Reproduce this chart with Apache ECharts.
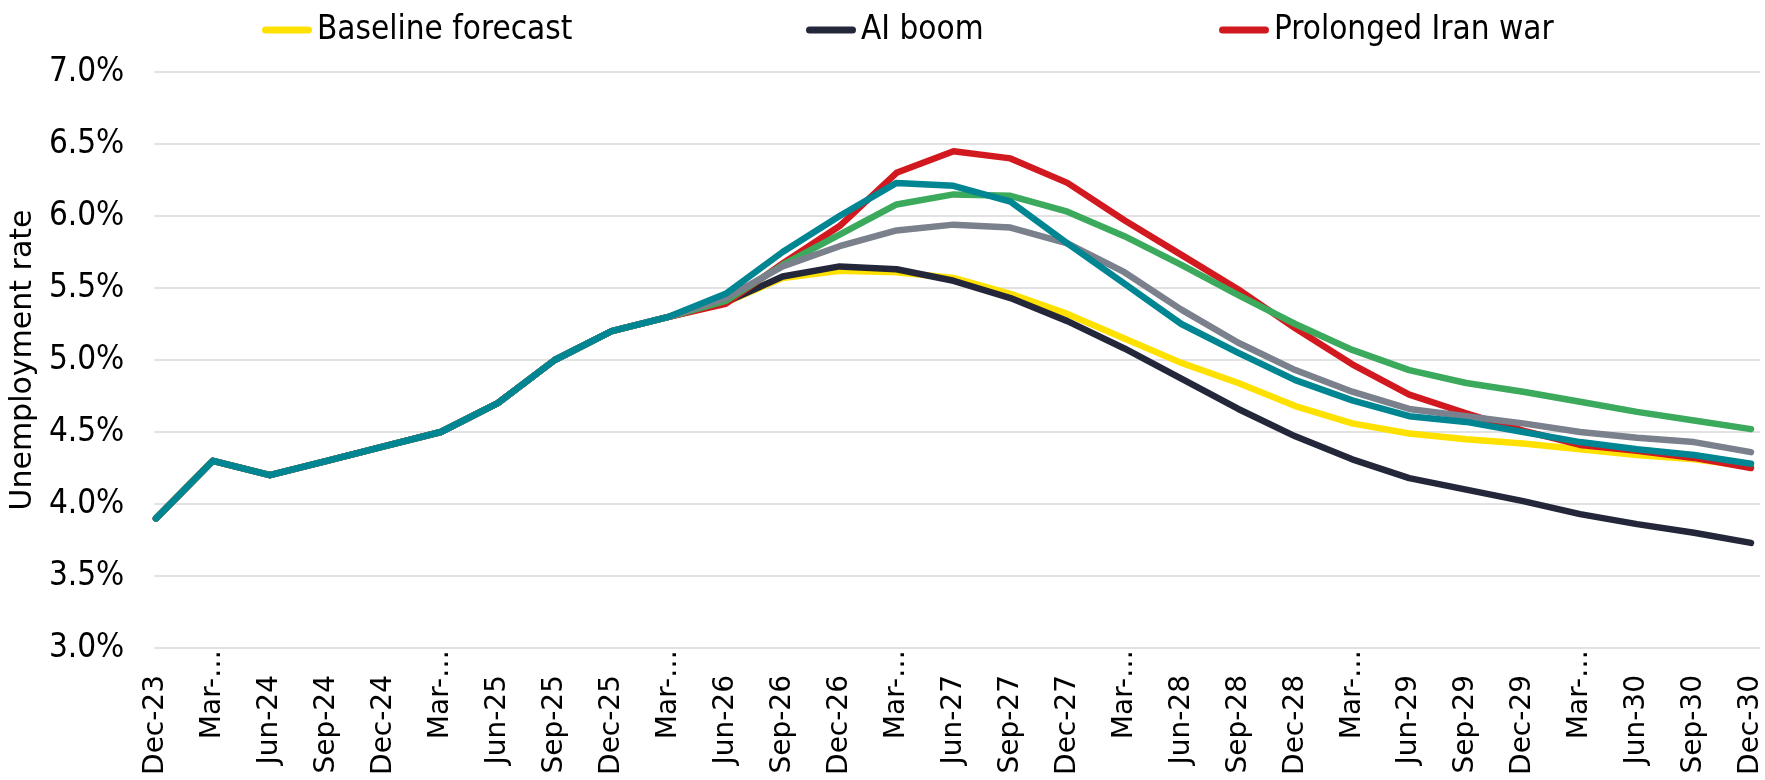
<!DOCTYPE html>
<html>
<head>
<meta charset="utf-8">
<script src="https://cdn.jsdelivr.net/npm/echarts@6/dist/echarts.min.js"></script>
<style>
  html, body { margin: 0; padding: 0; background: #ffffff; }
  #chart { width: 1765px; height: 780px; }
</style>
</head>
<body>
<div id="chart"></div>
<script>
// Quarter-end labels along the horizontal axis
const quarters = [
  'Dec-23', 'Mar-24', 'Jun-24', 'Sep-24', 'Dec-24', 'Mar-25', 'Jun-25', 'Sep-25',
  'Dec-25', 'Mar-26', 'Jun-26', 'Sep-26', 'Dec-26', 'Mar-27', 'Jun-27', 'Sep-27',
  'Dec-27', 'Mar-28', 'Jun-28', 'Sep-28', 'Dec-28', 'Mar-29', 'Jun-29', 'Sep-29',
  'Dec-29', 'Mar-30', 'Jun-30', 'Sep-30', 'Dec-30'
];

// Unemployment rate paths (%), one per scenario
const baseline = [3.9, 4.3, 4.2, 4.3, 4.4, 4.5, 4.7, 5.0, 5.2, 5.3,
  5.40, 5.57, 5.62, 5.61, 5.57, 5.46, 5.32, 5.15, 4.98, 4.84,
  4.68, 4.56, 4.49, 4.45, 4.42, 4.38, 4.34, 4.31, 4.26];
const aiBoom = [3.9, 4.3, 4.2, 4.3, 4.4, 4.5, 4.7, 5.0, 5.2, 5.3,
  5.40, 5.58, 5.65, 5.63, 5.55, 5.43, 5.27, 5.08, 4.87, 4.66,
  4.47, 4.31, 4.18, 4.10, 4.02, 3.93, 3.86, 3.80, 3.73];
const iranWar = [3.9, 4.3, 4.2, 4.3, 4.4, 4.5, 4.7, 5.0, 5.2, 5.3,
  5.39, 5.67, 5.93, 6.30, 6.45, 6.40, 6.23, 5.97, 5.73, 5.49,
  5.22, 4.97, 4.76, 4.63, 4.51, 4.41, 4.37, 4.32, 4.25];
const scenarioGreen = [3.9, 4.3, 4.2, 4.3, 4.4, 4.5, 4.7, 5.0, 5.2, 5.3,
  5.41, 5.66, 5.87, 6.08, 6.15, 6.14, 6.03, 5.86, 5.66, 5.45,
  5.25, 5.07, 4.93, 4.84, 4.78, 4.71, 4.64, 4.58, 4.52];
const scenarioGrey = [3.9, 4.3, 4.2, 4.3, 4.4, 4.5, 4.7, 5.0, 5.2, 5.3,
  5.43, 5.65, 5.79, 5.90, 5.94, 5.92, 5.81, 5.61, 5.35, 5.12,
  4.93, 4.78, 4.66, 4.61, 4.56, 4.50, 4.46, 4.43, 4.36];
const scenarioTeal = [3.9, 4.3, 4.2, 4.3, 4.4, 4.5, 4.7, 5.0, 5.2, 5.3,
  5.46, 5.75, 6.00, 6.23, 6.21, 6.10, 5.81, 5.53, 5.25, 5.05,
  4.86, 4.72, 4.61, 4.57, 4.50, 4.43, 4.38, 4.34, 4.28];

// Value axis range (percent)
const yMin = 3.0, yMax = 7.0, yStep = 0.5;

const scenarios = [
  { name: 'Baseline forecast', data: baseline, color: '#FFE100' },
  { name: 'AI boom', data: aiBoom, color: '#24273A' },
  { name: 'Prolonged Iran war', data: iranWar, color: '#D2191F' },
  { name: 'Scenario 4', data: scenarioGreen, color: '#3CAA5C' },
  { name: 'Scenario 5', data: scenarioGrey, color: '#7A818C' },
  { name: 'Scenario 6', data: scenarioTeal, color: '#008592' }
];

const labelFont = 'DejaVu Sans Condensed, DejaVu Sans, sans-serif';
const axisFont = 'DejaVu Sans, sans-serif';
const legendIcon = 'path://M3.5,0 H46.5 A3.5,3.5 0 0 1 46.5,7 H3.5 A3.5,3.5 0 0 1 3.5,0 Z';

function legendFor(name, left) {
  return {
    data: [name],
    left: left,
    top: 8,
    icon: legendIcon,
    itemWidth: 50,
    itemHeight: 7,
    textStyle: { fontFamily: labelFont, fontSize: 33, color: '#000', lineHeight: 34 }
  };
}

const chart = echarts.init(document.getElementById('chart'), null, { renderer: 'canvas' });

chart.setOption({
  animation: false,
  backgroundColor: '#ffffff',
  legend: [
    legendFor('Baseline forecast', 257),
    legendFor('AI boom', 801),
    legendFor('Prolonged Iran war', 1214)
  ],
  grid: [
    // frame for gridlines and percentage labels
    { left: 147, right: 5, top: 72, bottom: 132 },
    // plotting area for the scenario lines
    { left: 156, right: 13, top: 72, bottom: 132 }
  ],
  xAxis: [
    { type: 'value', gridIndex: 0, min: 0, max: 1, show: false },
    {
      type: 'category',
      gridIndex: 1,
      data: quarters,
      boundaryGap: false,
      axisLine: { show: false },
      axisTick: { show: false },
      axisLabel: {
        interval: 0,
        rotate: 90,
        margin: 2,
        color: '#000',
        fontFamily: axisFont,
        fontSize: 28,
        formatter: function (v) {
          return v.indexOf('Mar') === 0 ? '{cut|Mar-\u2026}' : '{full|' + v + '}';
        },
        rich: {
          cut: { fontFamily: axisFont, fontSize: 28, color: '#000' },
          full: { fontFamily: axisFont, fontSize: 28, color: '#000', padding: [0, 25, 0, 0] }
        }
      }
    }
  ],
  yAxis: [
    {
      type: 'value',
      gridIndex: 0,
      min: yMin,
      max: yMax,
      interval: yStep,
      name: 'Unemployment rate',
      nameLocation: 'middle',
      nameRotate: 90,
      nameGap: 92,
      nameTextStyle: { fontFamily: axisFont, fontSize: 30, color: '#000' },
      axisLine: { show: false },
      axisTick: { show: false },
      axisLabel: {
        margin: 30,
        color: '#000',
        fontFamily: labelFont,
        fontSize: 33,
        formatter: function (v) { return v.toFixed(1) + '%'; }
      },
      splitLine: { show: true, lineStyle: { color: '#d9d9d9', width: 1.5 } }
    },
    { type: 'value', gridIndex: 1, min: yMin, max: yMax, interval: yStep, show: false, splitLine: { show: false } }
  ],
  series: scenarios.map(function (s) {
    return {
      name: s.name,
      type: 'line',
      xAxisIndex: 1,
      yAxisIndex: 1,
      data: s.data,
      symbol: 'none',
      smooth: false,
      color: s.color,
      lineStyle: { color: s.color, width: 6.5, cap: 'round', join: 'round' }
    };
  })
});
</script>
</body>
</html>
